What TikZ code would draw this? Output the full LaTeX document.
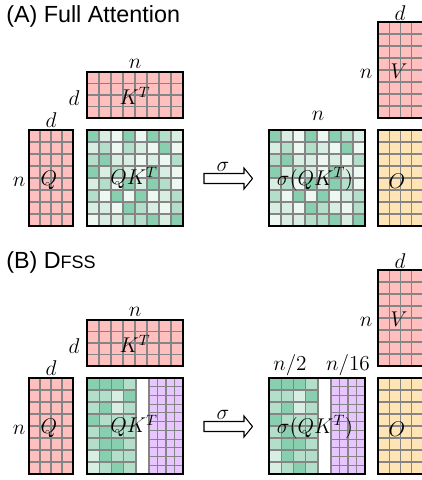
\RequirePackage{fix-cm}
\documentclass[tikz,border=0pt]{standalone}
\usepackage{fontspec}
\newfontfamily\titlefont{Liberation Sans}
\definecolor{pinkc}{HTML}{FFBFBF}
\definecolor{yelc}{HTML}{FFE5B5}
\definecolor{purc}{HTML}{E8C6FF}
\definecolor{g1}{HTML}{88CFAF}
\definecolor{g2}{HTML}{B3DECA}
\definecolor{g3}{HTML}{D8EEE3}
\definecolor{g4}{HTML}{EEF8F3}
\definecolor{gridc}{HTML}{858585}
\tikzset{
  gridline/.style={draw=gridc, line width=0.8pt},
  border/.style={draw=black, line width=1.1pt},
  lab/.style={font=\fontsize{16}{19}\selectfont, inner sep=0pt},
  ttl/.style={font=\titlefont\fontsize{17.5}{20}\selectfont, inner sep=0pt, anchor=base west},
  arrowbox/.style={draw=black, fill=white, line width=0.8pt, line join=miter}
}
\newcommand{\gridmat}[6]{%
  \pgfmathtruncatemacro\ncm{#5-1}%
  \pgfmathtruncatemacro\nrm{#6-1}%
  \foreach \ii in {1,...,\ncm} \draw[gridline] ({#1+\ii*#3/#5},#2) -- ++(0,#4);
  \foreach \jj in {1,...,\nrm} \draw[gridline] (#1,{#2+\jj*#4/#6}) -- ++(#3,0);
}
\newcommand{\greencells}[5]{%
  \foreach \row [count=\r from 0] in #5 {%
    \foreach \c [count=\k from 0] in \row {%
      \fill[g\c] ({#1+\k*#3},{#2+\r*#4}) rectangle ++(#3,#4);
    }%
  }%
}
\def\patA{{1,3,4,1,4,1,2,3},{3,2,4,2,3,4,1,4},{2,1,3,3,4,3,4,2},{1,3,2,3,4,1,3,4},{3,2,4,1,3,1,2,4},{2,4,1,4,1,4,3,2},{3,3,4,1,2,3,4,2},{4,3,3,2,2,1,3,1}}
\def\patB{{1,1,1,2},{2,2,3,1},{2,1,3,2},{1,2,2,2},{2,1,2,2},{2,1,1,2},{3,1,2,2},{3,2,1,2}}
\begin{document}
\begin{tikzpicture}[x=0.75pt,y=-0.75pt]
\useasboundingbox (0,0) rectangle (422,480);
\clip (0,0) rectangle (422,480);

% ================= Panel A =================
\node[ttl] (titleA) at (6,22) {(A) Full Attention};

% K^T
\fill[pinkc] (87,72) rectangle ++(96,46);
\gridmat{87}{72}{96}{46}{8}{4}
\draw[border] (87,72) rectangle ++(96,46);
% Q
\fill[pinkc] (29,130) rectangle ++(44,96);
\gridmat{29}{130}{44}{96}{4}{8}
\draw[border] (29,130) rectangle ++(44,96);
% QK^T
\greencells{87}{130}{12}{12}{\patA}
\gridmat{87}{130}{96}{96}{8}{8}
\draw[border] (87,130) rectangle ++(96,96);
% sigma(QK^T)
\greencells{269}{130}{12}{12}{\patA}
\gridmat{269}{130}{96}{96}{8}{8}
\draw[border] (269,130) rectangle ++(96,96);
% V
\fill[pinkc] (378,22) rectangle ++(45,96);
\gridmat{378}{22}{45}{96}{4}{8}
\draw[border] (378,22) rectangle ++(45,96);
% O
\fill[yelc] (378,130) rectangle ++(45,96);
\gridmat{378}{130}{45}{96}{4}{8}
\draw[border] (378,130) rectangle ++(45,96);

% arrow
\draw[arrowbox] (204,173.5) -- (244,173.5) -- (244,168) -- (252.5,178.5) -- (244,189) -- (244,183.5) -- (204,183.5) -- cycle;
\node[lab, anchor=base] (sigA) at (223,171) {$\sigma$};

% labels A
\node[lab, anchor=base] (nKA) at (135,68) {$n$};
\node[lab, anchor=base] (dKA) at (74,105) {$d$};
\node[lab, anchor=base] (dQA) at (51,127) {$d$};
\node[lab, anchor=base] (nQA) at (19,186) {$n$};
\node[lab] (KTA) at (135,96) {$K^T$};
\node[lab] (QA) at (49,180) {$Q$};
\node[lab] (QKA) at (134,178) {$QK^T$};
\node[lab] (sQKA) at (315,179) {$\sigma(QK^T)$};
\node[lab, anchor=base] (nSA) at (318,120) {$n$};
\node[lab, anchor=base] (dVA) at (400,20) {$d$};
\node[lab, anchor=base] (nVA) at (366,78) {$n$};
\node[lab] (VA) at (399,71) {$V$};
\node[lab] (OA) at (397,181) {$O$};

% ================= Panel B =================
\node[ttl] (titleB) at (6,268) {(B) D{\fontsize{13.5}{16}\selectfont FSS}};

% K^T
\fill[pinkc] (87,320) rectangle ++(96,46);
\gridmat{87}{320}{96}{46}{8}{4}
\draw[border] (87,320) rectangle ++(96,46);
% Q
\fill[pinkc] (29,378) rectangle ++(44,96);
\gridmat{29}{378}{44}{96}{4}{8}
\draw[border] (29,378) rectangle ++(44,96);
% QK^T (B)
\greencells{87}{378}{12.25}{12}{\patB}
\gridmat{87}{378}{49}{96}{4}{8}
\draw[gridline] (87,378) rectangle ++(49,96);
\fill[purc] (149,378) rectangle ++(34,96);
\gridmat{149}{378}{34}{96}{4}{11}
\draw[gridline] (149,378) rectangle ++(34,96);
\draw[border] (87,378) rectangle ++(96,96);
% sigma(QK^T) (B)
\greencells{269}{378}{12.25}{12}{\patB}
\gridmat{269}{378}{49}{96}{4}{8}
\draw[gridline] (269,378) rectangle ++(49,96);
\fill[purc] (331,378) rectangle ++(34,96);
\gridmat{331}{378}{34}{96}{4}{11}
\draw[gridline] (331,378) rectangle ++(34,96);
\draw[border] (269,378) rectangle ++(96,96);
% V
\fill[pinkc] (378,270) rectangle ++(45,96);
\gridmat{378}{270}{45}{96}{4}{8}
\draw[border] (378,270) rectangle ++(45,96);
% O
\fill[yelc] (378,378) rectangle ++(45,96);
\gridmat{378}{378}{45}{96}{4}{8}
\draw[border] (378,378) rectangle ++(45,96);

% arrow
\draw[arrowbox] (204,421.5) -- (244,421.5) -- (244,416) -- (252.5,426.5) -- (244,437) -- (244,431.5) -- (204,431.5) -- cycle;
\node[lab, anchor=base] (sigB) at (223,419) {$\sigma$};

% labels B
\node[lab, anchor=base] (nKB) at (135,316) {$n$};
\node[lab, anchor=base] (dKB) at (74,353) {$d$};
\node[lab, anchor=base] (dQB) at (51,375) {$d$};
\node[lab, anchor=base] (nQB) at (19,434) {$n$};
\node[lab] (KTB) at (135,344) {$K^T$};
\node[lab] (QB) at (49,428) {$Q$};
\node[lab] (QKB) at (134,426) {$QK^T$};
\node[lab] (sQKB) at (315,427) {$\sigma(QK^T)$};
\node[lab, anchor=base] (nhB) at (290,370) {$n/2$};
\node[lab, anchor=base] (n16B) at (348,370) {$n/16$};
\node[lab, anchor=base] (dVB) at (400,268) {$d$};
\node[lab, anchor=base] (nVB) at (366,326) {$n$};
\node[lab] (VB) at (399,319) {$V$};
\node[lab] (OB) at (397,429) {$O$};
\end{tikzpicture}
\end{document}
